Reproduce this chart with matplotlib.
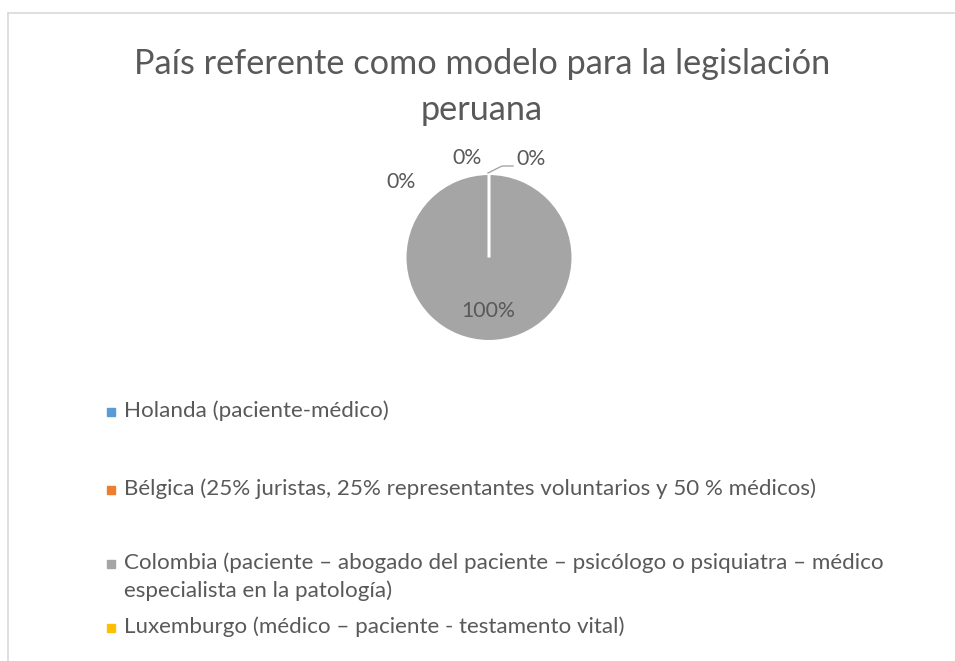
import matplotlib
matplotlib.use("Agg")
import matplotlib.pyplot as plt
from matplotlib.patches import Rectangle
from matplotlib.lines import Line2D

W, H = 955, 661
plt.rcParams['font.family'] = ['Lato', 'DejaVu Sans']

title = "País referente como modelo para la legislación\nperuana"
categories = [
    "Holanda (paciente-médico)",
    "Bélgica (25% juristas, 25% representantes voluntarios y 50 % médicos)",
    "Colombia (paciente – abogado del paciente – psicólogo o psiquiatra – médico\nespecialista en la patología)",
    "Luxemburgo (médico – paciente - testamento vital)",
]
values = [0, 0, 100, 0]
colors = ['#5B9BD5', '#ED7D31', '#A5A5A5', '#FFC000']

TXT = '#595959'

fig = plt.figure(figsize=(W / 100, H / 100), dpi=100)

def fx(x):
    return x / W

def fy(y):
    return 1 - y / H

# chart border (top and left only visible)
fig.add_artist(Line2D([fx(8), fx(955)], [fy(12.5), fy(12.5)], color='#D9D9D9', lw=1.2))
fig.add_artist(Line2D([fx(8), fx(8)], [fy(12.5), fy(661)], color='#D9D9D9', lw=1.2))

# title
for i, line in enumerate(title.split('\n')):
    fig.text(fx(482), fy(64 + 46 * i), line, ha='center', va='center', fontsize=24.7,
             color=TXT)

# pie
cx, cy, r = 489, 257.5, 84
ax = fig.add_axes([fx(cx - r), fy(cy + r), (2 * r) / W, (2 * r) / H])
wedges, _ = ax.pie(values, colors=colors, startangle=90, counterclock=False,
                   radius=1.0, wedgeprops=dict(edgecolor='white', linewidth=2.2))
ax.set_xlim(-1, 1)
ax.set_ylim(-1, 1)
ax.set_aspect('equal')
ax.axis('off')

total = sum(values)
pcts = ["{:.0f}%".format(100 * v / total) for v in values]
label_pos = [(401, 182), (467, 158), (488, 311), (531, 159)]
for p, (lx, ly) in zip(pcts, label_pos):
    fig.text(fx(lx), fy(ly), p, ha='center', va='center', fontsize=15.3, color=TXT)

# leader line for Luxemburgo label
fig.add_artist(Line2D([fx(488), fx(502), fx(513)], [fy(173), fy(166), fy(166)],
                      color='#A6A6A6', lw=1.0))

# legend
leg_y = [411, 489, 563, 627]
for c, lab, y in zip(colors, categories, leg_y):
    s = 8
    fig.add_artist(Rectangle((fx(111 - s / 2), fy(y + 1 + s / 2)), s / W, s / H, color=c,
                             transform=fig.transFigure))
    for j, line in enumerate(lab.split('\n')):
        fig.text(fx(124), fy(y + 28 * j), line, ha='left', va='center', fontsize=16.1,
                 color=TXT)

fig.savefig('out.png', dpi=100, facecolor='white')
